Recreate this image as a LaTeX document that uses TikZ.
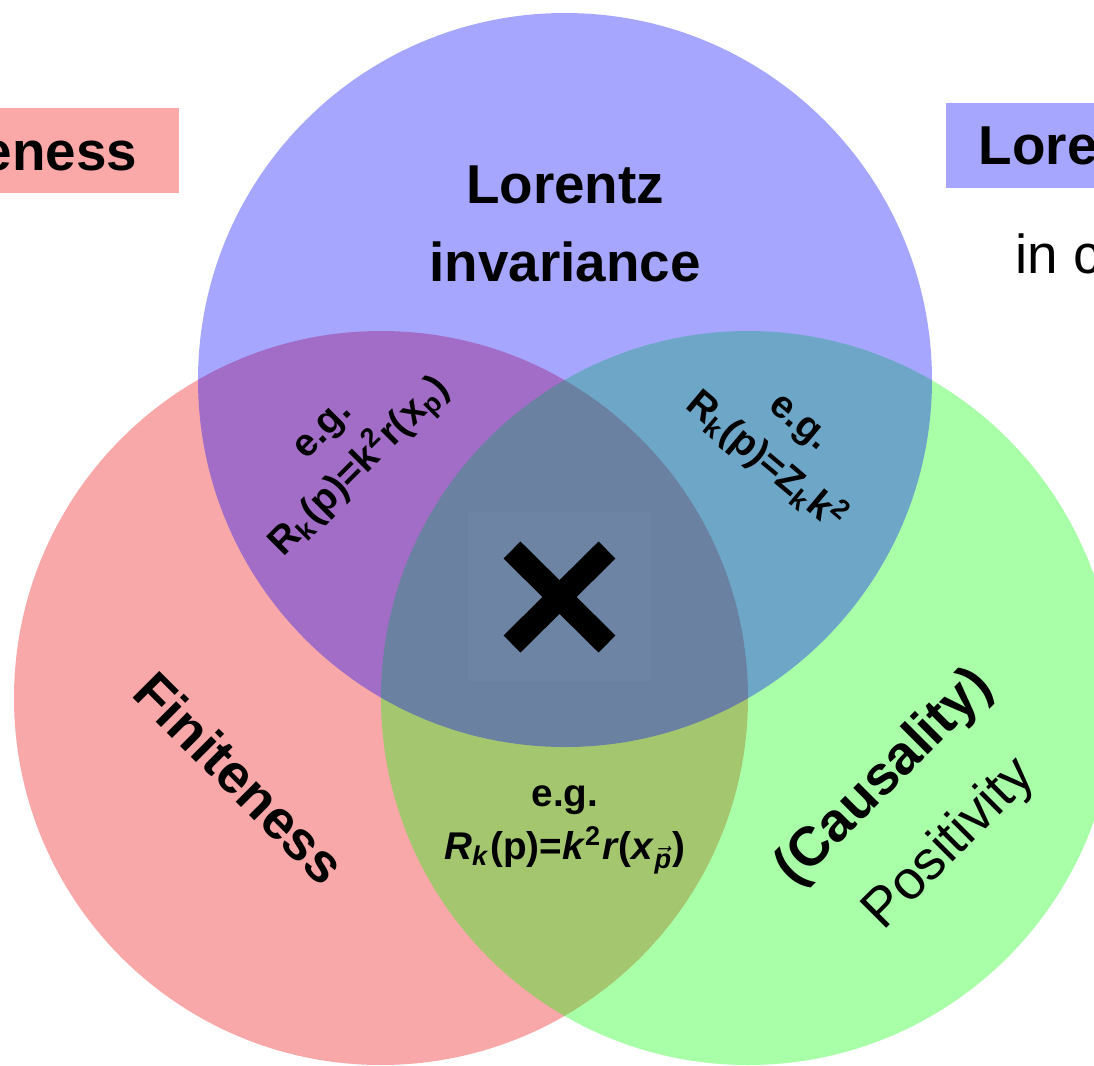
\documentclass[tikz,border=0pt]{standalone}
\usepackage{fontspec}
\setmainfont{Liberation Sans}
\definecolor{redset}{RGB}{234,0,0}
\definecolor{greenset}{RGB}{0,255,0}
\definecolor{blueset}{RGB}{0,0,255}
\definecolor{redtag}{RGB}{250,168,168}
\definecolor{bluetag}{RGB}{166,166,255}
\begin{document}
\begin{tikzpicture}[set circle/.style={circle,minimum size=7.34cm,inner sep=0pt},
big label/.style={font=\fontsize{15.6}{22}\selectfont\bfseries,align=center,inner sep=0pt},
eg label/.style={font=\fontsize{11}{15}\selectfont\bfseries,align=center,inner sep=0pt},
tag box/.style={font=\fontsize{15.6}{22}\selectfont\bfseries,minimum height=0.85cm,text height=0.39cm,text depth=0pt,inner ysep=0pt}]%
\useasboundingbox (0,0) rectangle (10.94,-10.65);
\clip (0,0) rectangle (10.94,-10.65);
\begin{scope}[fill opacity=0.34]
\node[set circle,fill=redset] (fin) at (3.81,-6.98) {};%finiteness
\node[set circle,fill=greenset] (pos) at (7.48,-6.98) {};%positivity
\node[set circle,fill=blueset,fill opacity=0.35] (lor) at (5.65,-3.80) {};%lorentz
\end{scope}
\node[fill=white,fill opacity=0.03,minimum width=1.83cm,minimum height=1.69cm] (nogo) at (5.595,-5.965) {};%no-go
\draw[line width=0.24cm] (5.12,-5.50) -- (6.07,-6.44);
\draw[line width=0.24cm] (6.07,-5.50) -- (5.12,-6.44);
\begin{scope}[every node/.style={big label}]
\node (lorT) at (5.65,-2.24) {Lorentz\\invariance};
\node[rotate=-45] (finT) at (2.40,-7.78) {Finiteness};
\node[rotate=45] (causT) at (8.85,-7.78) {(Causality)};
\node[rotate=45,font=\fontsize{15.6}{22}\selectfont] (posT) at (9.50,-8.45) {Positivity};
\end{scope}
\begin{scope}[every node/.style={eg label}]
\node[rotate=45] (egFL) at (3.45,-4.52) {e.g.\\R\textsubscript{k}(p)=k\textsuperscript{2}r(x\textsubscript{p})};
\node[rotate=-40] (egLP) at (7.80,-4.45) {e.g.\\R\textsubscript{k}(p)=Z\textsubscript{k}k\textsuperscript{2}};
\node (egFP) at (5.65,-8.30) {e.g.\\\textit{R}\textsubscript{\textit{k}}(p)=\textit{k}\textsuperscript{2}\textit{r}(\textit{x}\textsubscript{$\vec{\mbox{\textbf{\textit{p}}}}$})};
\end{scope}
\node[tag box,fill=redtag,anchor=east,inner xsep=0.42cm] (finTag) at (1.80,-1.505) {eneness};
\node[tag box,fill=bluetag,anchor=west,inner xsep=0.33cm] (lorTag) at (9.45,-1.45) {Loren};
\node[anchor=base west,inner sep=0pt,font=\fontsize{15.6}{22}\selectfont] (lorNote) at (10.15,-2.73) {in c};
\end{tikzpicture}
\end{document}
